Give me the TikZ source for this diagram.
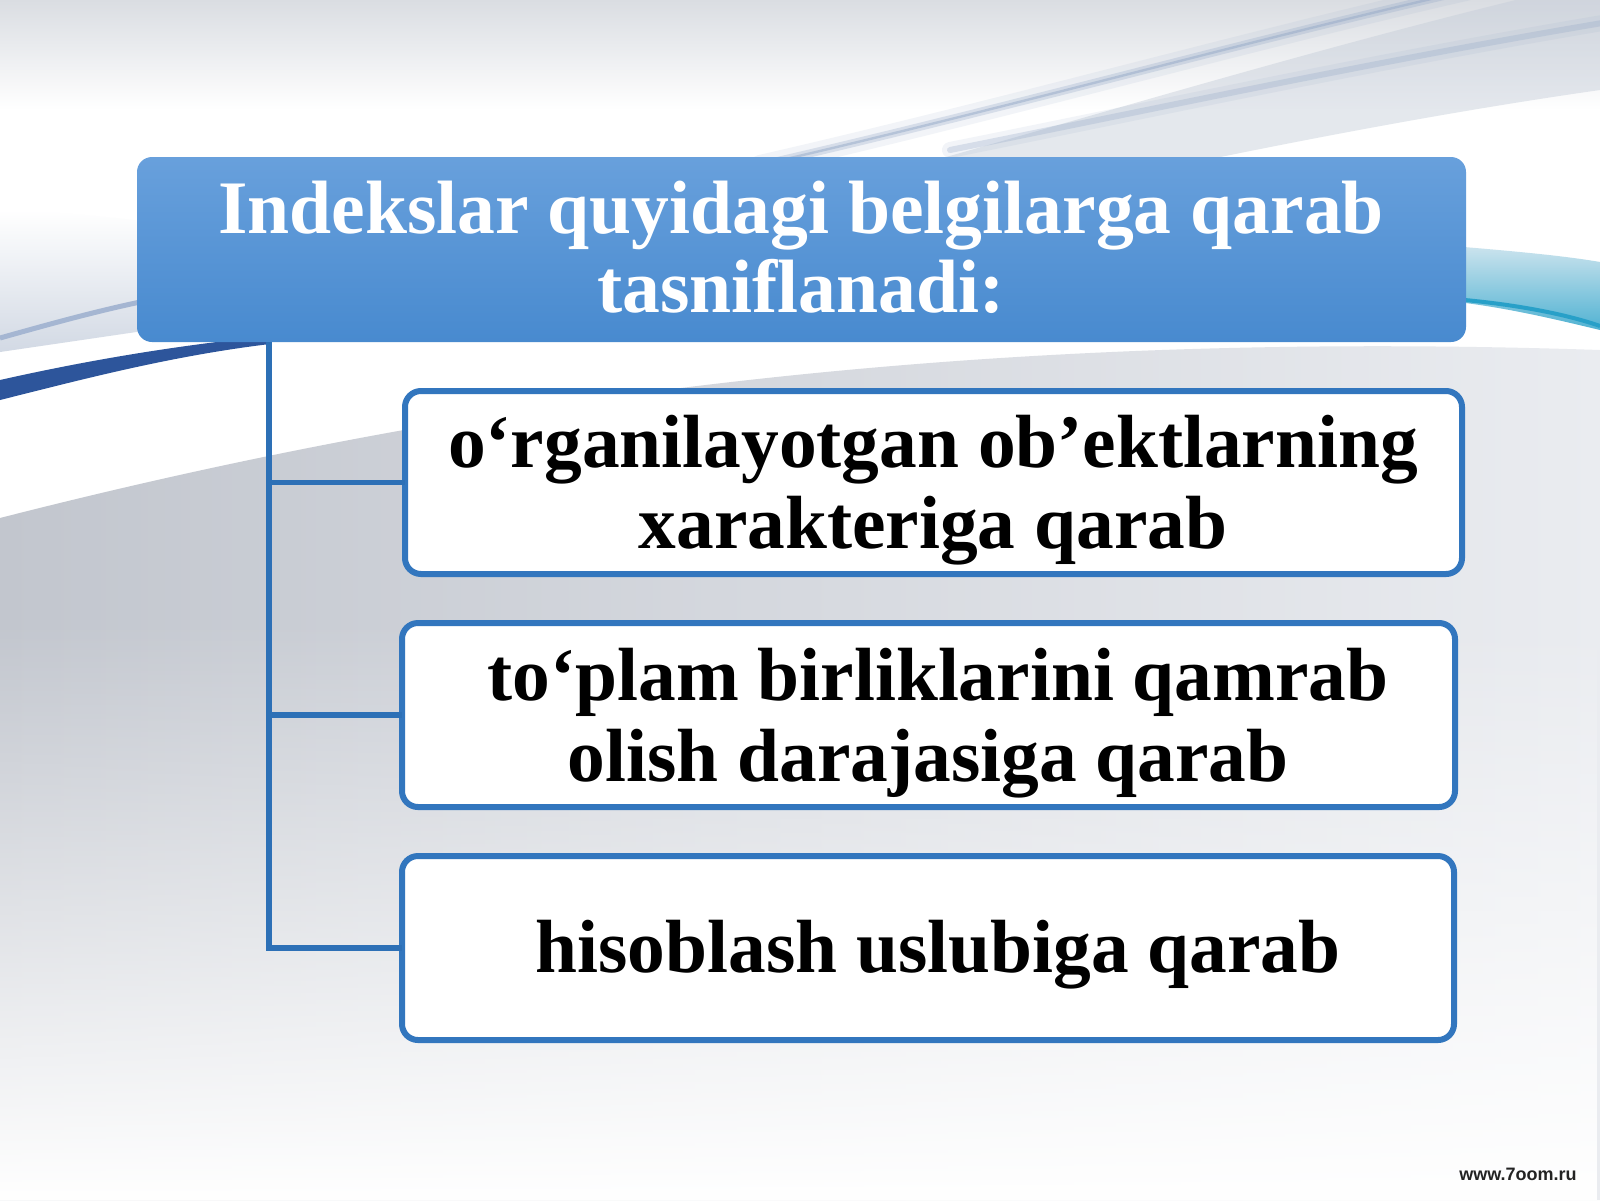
\documentclass[tikz,border=0pt]{standalone}
\usepackage{fontspec}
\setmainfont{Liberation Serif}
\newfontfamily\wmfont{Liberation Sans}
\usetikzlibrary{fadings}
\definecolor{hdrtop}{RGB}{104,160,220}
\definecolor{hdrbot}{RGB}{72,138,207}
\definecolor{edgeblue}{RGB}{50,118,190}
\definecolor{linkblue}{RGB}{45,112,182}
\definecolor{bgtop}{RGB}{218,221,226}
\definecolor{wedgeL}{RGB}{194,198,206}
\definecolor{wedgeR}{RGB}{234,236,240}
\definecolor{streak}{RGB}{150,170,200}
\definecolor{bandgray}{RGB}{196,204,216}
\definecolor{swooshdark}{RGB}{45,85,155}
\definecolor{swooshlight}{RGB}{165,182,210}
\definecolor{tealA}{RGB}{205,228,238}
\definecolor{tealB}{RGB}{80,178,210}
\definecolor{tealC}{RGB}{40,160,200}
\definecolor{wmgray}{RGB}{35,35,35}
\tikzset{
  hdrbox/.style={rectangle, rounded corners=7.5pt, top color=hdrtop, bottom color=hdrbot, draw=none, inner sep=0pt, outer sep=0pt},
  itembox/.style={rectangle, rounded corners=8pt, draw=edgeblue, line width=3pt, fill=white, inner sep=0pt, outer sep=0pt},
  hdrtext/.style={text=white, font=\fontsize{37.8}{40}\selectfont\bfseries, inner sep=0pt, anchor=base},
  itemtext/.style={text=black, font=\fontsize{37.7}{40}\selectfont\bfseries, inner sep=0pt, anchor=base},
  link/.style={draw=linkblue, line width=2.8pt, line join=miter},
  softline/.style={line cap=round},
}
\begin{document}
\begin{tikzpicture}[x=0.5pt,y=-0.5pt]
\useasboundingbox (0,0) rectangle (1600,1200);
% ---------- background ----------
\fill[white] (0,0) rectangle (1600,1200);
\shade[top color=bgtop, bottom color=white] (0,0) rectangle (1600,110);
% diffuse gray band upper right
\fill[bandgray, opacity=0.45] (520,270) .. controls (900,180) and (1250,60) .. (1600,-20) -- (1600,90) .. controls (1250,140) and (900,230) .. (640,280) -- cycle;
% streaks
\draw[streak, opacity=0.12, line width=10pt, softline] (760,165) .. controls (1000,110) and (1250,40) .. (1470,-10);
\draw[streak, opacity=0.3, line width=4pt, softline] (760,165) .. controls (1000,110) and (1250,40) .. (1470,-10);
\draw[streak, opacity=0.5, line width=1.2pt, softline] (760,165) .. controls (1000,110) and (1250,40) .. (1470,-10);
\draw[streak, opacity=0.12, line width=8pt, softline] (950,150) .. controls (1150,110) and (1380,60) .. (1620,20);
\draw[streak, opacity=0.3, line width=3pt, softline] (950,150) .. controls (1150,110) and (1380,60) .. (1620,20);
% left gray-blue band
\shade[top color=white, middle color=bandgray, bottom color={rgb,255:red,210;green,217;blue,228}] (0,210) .. controls (60,212) and (100,216) .. (150,222) -- (150,330) -- (0,352) -- cycle;
\draw[swooshlight, line width=2.5pt] (0,338) .. controls (50,324) and (100,310) .. (150,300);
% dark blue swoosh
\fill[swooshdark] (0,380) .. controls (80,362) and (170,346) .. (270,336) -- (270,344) .. controls (170,356) and (80,380) .. (0,400) -- cycle;
% right teal swoosh
\shade[top color=tealA, bottom color=tealB] (1440,245) .. controls (1500,250) and (1560,255) .. (1600,262) -- (1600,330) .. controls (1550,318) and (1500,306) .. (1440,300) -- cycle;
\draw[tealC, line width=2pt] (1440,298) .. controls (1500,302) and (1560,312) .. (1600,326);
% gray wedge
\shade[left color=wedgeL, right color=wedgeR] (0,518) .. controls (500,390) and (1000,330) .. (1600,350) -- (1600,1200) -- (0,1200) -- cycle;
\fill[white, path fading=north] (0,620) rectangle (1600,1200);
% ---------- diagram ----------
\node[hdrbox, minimum width=664.5pt, minimum height=92.5pt] (head) at (801.5,249.5) {};
\node[hdrtext] (h1) at (801,233) {Indekslar quyidagi belgilarga qarab};
\node[hdrtext] (h2) at (801,312) {tasniflanadi:};
\coordinate (trunkx) at (269,0);
\draw[link] (head.south -| trunkx) -- (trunkx |- 0,948) -- (402,948);
\node[itembox, minimum width=528.5pt, minimum height=91.5pt] (box1) at (933.5,482.5) {};
\node[itembox, minimum width=526.5pt, minimum height=92pt] (box2) at (928.5,715) {};
\node[itembox, minimum width=526pt, minimum height=92pt] (box3) at (928,948) {};
\draw[link] (trunkx |- box1.west) -- (box1.west);
\draw[link] (trunkx |- box2.west) -- (box2.west);
\draw[link] (trunkx |- box3.west) -- (box3.west);
\node[itemtext] (t1a) at (933,467) {o‘rganilayotgan ob’ektlarning};
\node[itemtext] (t1b) at (933,548) {xarakteriga qarab};
\node[itemtext] (t2a) at (938,700) {to‘plam birliklarini qamrab};
\node[itemtext] (t2b) at (928,781) {olish darajasiga qarab};
\node[itemtext] (t3) at (938,972) {hisoblash uslubiga qarab};
\node[anchor=base east, inner sep=0pt, text=wmgray, font=\wmfont\bfseries\fontsize{9}{10}\selectfont] (wm) at (1577,1180) {www.7oom.ru};
\end{tikzpicture}
\end{document}
